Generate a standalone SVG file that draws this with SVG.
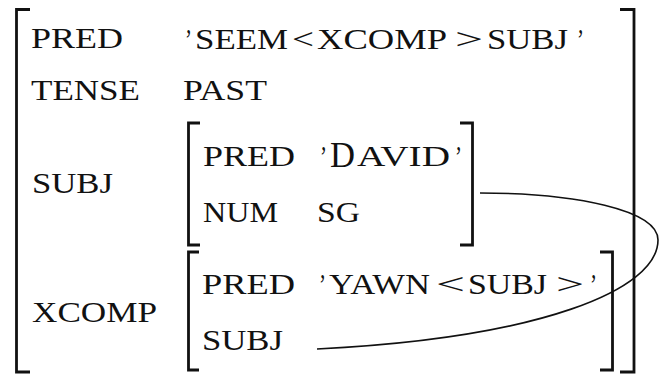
<svg xmlns="http://www.w3.org/2000/svg" width="659" height="374" viewBox="0 0 659 374">
<style>
text{font-family:"Liberation Serif","Times New Roman",serif;font-size:30px;fill:#111}
.br{fill:none;stroke:#111;stroke-width:2.8;stroke-linecap:butt;stroke-linejoin:miter}
.cn{fill:none;stroke:#111;stroke-width:1.6}
</style>
<rect width="659" height="374" fill="#fff"/>
<g id="fs-outer">
<path class="br" d="M30,9.5 H16.5 V372 H30"/>
<path class="br" d="M620,9.5 H634 V372 H620"/>
<text x="31" y="48" textLength="92" lengthAdjust="spacingAndGlyphs">PRED</text>
<text x="185" y="49" textLength="7" lengthAdjust="spacingAndGlyphs">’</text>
<text x="195" y="49" textLength="93" lengthAdjust="spacingAndGlyphs">SEEM</text>
<text x="292" y="49" textLength="22" lengthAdjust="spacingAndGlyphs">&lt;</text>
<text x="317" y="49" textLength="130" lengthAdjust="spacingAndGlyphs">XCOMP</text>
<text x="455" y="49" textLength="28" lengthAdjust="spacingAndGlyphs">&gt;</text>
<text x="487" y="49" textLength="81" lengthAdjust="spacingAndGlyphs">SUBJ</text>
<text x="577" y="49" textLength="7" lengthAdjust="spacingAndGlyphs">’</text>
<text x="31" y="100" textLength="109" lengthAdjust="spacingAndGlyphs">TENSE</text>
<text x="183" y="100" textLength="84" lengthAdjust="spacingAndGlyphs">PAST</text>
<text x="32" y="193" textLength="81" lengthAdjust="spacingAndGlyphs">SUBJ</text>
<text x="32" y="322" textLength="125" lengthAdjust="spacingAndGlyphs">XCOMP</text>
</g>
<g id="fs-subj">
<path class="br" d="M200,123 H188.5 V245 H200"/>
<path class="br" d="M460,123 H472.5 V245 H460"/>
<text x="203" y="166" textLength="92" lengthAdjust="spacingAndGlyphs">PRED</text>
<text x="320" y="166" textLength="7" lengthAdjust="spacingAndGlyphs">’</text>
<text x="330" y="167" style="font-size:35px" textLength="25" lengthAdjust="spacingAndGlyphs">D</text>
<text x="357" y="166" textLength="93" lengthAdjust="spacingAndGlyphs">AVID</text>
<text x="455" y="166" textLength="7" lengthAdjust="spacingAndGlyphs">’</text>
<text x="203" y="222" textLength="75" lengthAdjust="spacingAndGlyphs">NUM</text>
<text x="317" y="222" textLength="43" lengthAdjust="spacingAndGlyphs">SG</text>
</g>
<g id="fs-xcomp">
<path class="br" d="M199,252 H188.5 V370 H199"/>
<path class="br" d="M600,252 H612.5 V370 H600"/>
<text x="202" y="294" textLength="93" lengthAdjust="spacingAndGlyphs">PRED</text>
<text x="319" y="294" textLength="7" lengthAdjust="spacingAndGlyphs">’</text>
<text x="329" y="294" textLength="101" lengthAdjust="spacingAndGlyphs">YAWN</text>
<text x="436" y="294" textLength="29" lengthAdjust="spacingAndGlyphs">&lt;</text>
<text x="468" y="294" textLength="79" lengthAdjust="spacingAndGlyphs">SUBJ</text>
<text x="556" y="294" textLength="28" lengthAdjust="spacingAndGlyphs">&gt;</text>
<text x="590" y="294" textLength="7" lengthAdjust="spacingAndGlyphs">’</text>
<text x="202" y="350" textLength="81" lengthAdjust="spacingAndGlyphs">SUBJ</text>
</g>
<g id="connectors">
<path class="cn" d="M480,193 C575,193 658,210 658,240 C658,290 540,338 317,349"/>
</g>
</svg>
